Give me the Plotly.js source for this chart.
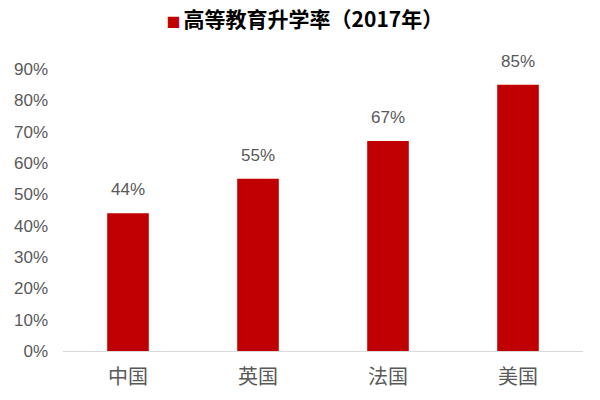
<!DOCTYPE html>
<html>
<head>
<meta charset="utf-8">
<script src="https://cdn.plot.ly/plotly-3.0.1.min.js"></script>
<style>
  html, body { margin: 0; padding: 0; background: #fff; }
  #chart { width: 600px; height: 400px; }
</style>
</head>
<body>
<div id="chart"></div>
<script>
// 高等教育升学率（2017年）
var countries = ['中国', '英国', '法国', '美国'];
var rates = [0.44, 0.55, 0.67, 0.85];
var rateLabels = ['44%', '55%', '67%', '85%'];
var seriesName = '高等教育升学率（2017年）';

var barColor = '#C00000';
var greyText = '#595959';

var trace = {
	x: countries,
	y: rates,
	type: 'bar',
	name: seriesName,
	marker: { color: barColor },
	hoverinfo: 'skip'
};

// value labels sit a bit higher than plotly's own 'outside' text
var labels = [];
for (let i = 0; i < countries.length; i++) {
	labels.push({
		x: countries[i],
		y: rates[i],
		text: rateLabels[i],
		showarrow: false,
		yanchor: 'bottom',
		yshift: 12,
		font: { family: 'Liberation Sans, Arial, sans-serif', size: 17, color: greyText }
	});
}

var layout = {
	width: 600,
	height: 400,
	margin: { l: 63, r: 17, t: 69, b: 49 },
	paper_bgcolor: '#ffffff',
	plot_bgcolor: '#ffffff',
	showlegend: false,
	bargap: 0.68,
	title: {
		// red square stands in for the legend key
		text: '<span style="color:' + barColor + ';font-size:14px">■ </span>' + seriesName,
		x: 0.508,
		xanchor: 'center',
		y: 0.952,
		yanchor: 'middle',
		font: { family: '"Noto Sans CJK SC", sans-serif', size: 21, color: '#000000', weight: 'bold' }
	},
	xaxis: {
		showgrid: false,
		showline: true,
		linecolor: '#D9D9D9',
		linewidth: 1,
		ticks: '',
		ticklabelstandoff: 8,
		tickfont: { family: '"Noto Sans CJK SC", sans-serif', size: 20, color: greyText },
		fixedrange: true
	},
	yaxis: {
		range: [0, 0.9],
		dtick: 0.1,
		tickformat: '.0%',
		showgrid: false,
		zeroline: false,
		showline: false,
		ticks: '',
		ticklabelstandoff: 14,
		tickfont: { family: 'Liberation Sans, Arial, sans-serif', size: 17, color: greyText },
		fixedrange: true
	},
	annotations: labels
};

Plotly.newPlot('chart', [trace], layout, { displayModeBar: false, staticPlot: true });
</script>
</body>
</html>
